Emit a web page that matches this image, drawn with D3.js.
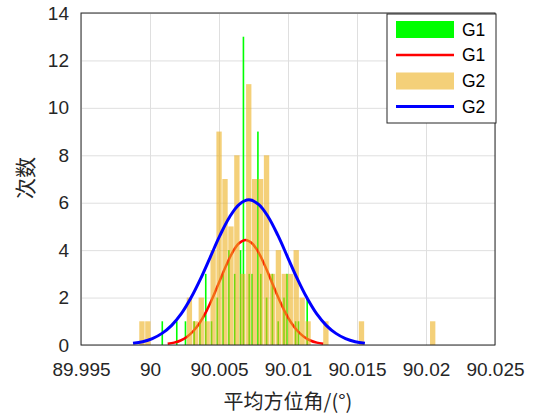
<!DOCTYPE html>
<html>
<head>
<meta charset="utf-8">
<script src="https://cdn.jsdelivr.net/npm/d3@7"></script>
<style>
  body { margin: 0; background: #fff; }
  svg { display: block; }
</style>
</head>
<body>
<svg id="chart"></svg>
<script>
// ---- data ----
const xTicks = [89.995, 90, 90.005, 90.01, 90.015, 90.02, 90.025]
const xTickLabels = ["89.995", "90", "90.005", "90.01", "90.015", "90.02", "90.025"]
const yTicks = [0, 2, 4, 6, 8, 10, 12, 14]

// G2 histogram (tan): first bin left edge, bin width, counts
const g2Start = 89.9992
const g2Width = 0.00043
const g2Counts = [1,1,0,0,0,0,0,0, 2,1,2,1,4,9,7,5, 8,3,11,7,7,8,3,4,
                  3,3,4,2,1,0,0,1, 0,0,0,0,0,1,0,0, 0,0,0,0,0,0,0,0, 0,1]

// G1 histogram (green): first bin centre, bin width, counts
const g1Start = 90.00089
const g1Width = 0.00021
const g1Counts = [1,0,0,0,0,1,0,0,1,0,0,1,0,1,0,3,0,1,0,2,0,3,0,4,0,3,0,4,13,0,
                  3,3,0,9,3,0,2,0,3,0,1,0,2,3,0,0,1,1,0,0,2]

// fitted curves (x, y)
const blueX = [89.99877,89.99947,90.00017,90.00087,90.00157,90.00227,90.00297,90.00367,90.00437,
               90.00507,90.00577,90.00647,90.00717,90.00787,90.00857,90.00927,90.00997,90.01067,
               90.01137,90.01207,90.01277,90.01347,90.01417,90.01487,90.01557]
const blueY = [0.07,0.14,0.27,0.49,0.83,1.32,1.99,2.80,3.71,4.62,5.40,5.93,6.12,
               5.93,5.40,4.62,3.71,2.80,1.99,1.32,0.83,0.49,0.27,0.14,0.07]
const redX = [90.00128,90.00175,90.00222,90.00269,90.00316,90.00363,90.00410,90.00457,90.00504,
              90.00551,90.00598,90.00645,90.00692,90.00739,90.00786,90.00833,90.00880,90.00927,
              90.00974,90.01021,90.01068,90.01115,90.01162,90.01209,90.01256]
const redY = [0.05,0.10,0.19,0.35,0.60,0.96,1.44,2.03,2.69,3.34,3.91,4.29,4.43,
              4.29,3.91,3.34,2.69,2.03,1.44,0.96,0.60,0.35,0.19,0.10,0.05]

const legendNames = ["G1", "G1", "G2", "G2"]

// ---- layout ----
const width = 537, height = 419
const mLeft = 81, mRight = 495, mTop = 13, mBottom = 345
const axisColor = "#262626"
const tanFill = "rgb(237,177,32)"

const svg = d3.select("#chart").attr("width", width).attr("height", height)
  .style("font-family", "Arial, 'Liberation Sans', Helvetica, sans-serif")

const x = d3.scaleLinear().domain([89.995, 90.025]).range([mLeft, mRight])
const y = d3.scaleLinear().domain([0, 14]).range([mBottom, mTop])

// grid
svg.append("g")
  .attr("transform", "translate(0," + mBottom + ")")
  .call(d3.axisBottom(x).tickValues(xTicks).tickSize(-(mBottom - mTop)).tickFormat(""))
  .call(g => g.select(".domain").remove())
  .call(g => g.selectAll("line").attr("stroke", "#dfdfdf").attr("stroke-width", 1))
svg.append("g")
  .attr("transform", "translate(" + mLeft + ",0)")
  .call(d3.axisLeft(y).tickValues(yTicks).tickSize(-(mRight - mLeft)).tickFormat(""))
  .call(g => g.select(".domain").remove())
  .call(g => g.selectAll("line").attr("stroke", "#dfdfdf").attr("stroke-width", 1))

// G1 bars (green, narrow)
const g1 = g1Counts.map((c, i) => ({ x: g1Start + i * g1Width, c: c })).filter(d => d.c > 0)
svg.append("g").selectAll("rect").data(g1).enter().append("rect")
  .attr("x", d => x(d.x) - 0.8)
  .attr("width", 1.6)
  .attr("y", d => y(d.c))
  .attr("height", d => y(0) - y(d.c))
  .attr("fill", "#00ff00")

// G1 fit (red) - sits under tan bars
const line = d3.line().x(d => x(d[0])).y(d => y(d[1])).curve(d3.curveCatmullRom)
svg.append("path")
  .datum(redX.map((v, i) => [v, redY[i]]))
  .attr("d", line)
  .attr("fill", "none")
  .attr("stroke", "#ff0000")
  .attr("stroke-width", 2.5)

// G2 bars (tan, semi transparent)
const g2 = g2Counts.map((c, i) => ({ x0: g2Start + i * g2Width, x1: g2Start + (i + 1) * g2Width, c: c }))
  .filter(d => d.c > 0)
svg.append("g").selectAll("rect").data(g2).enter().append("rect")
  .attr("x", d => x(d.x0) + 0.3)
  .attr("width", d => x(d.x1) - x(d.x0) - 0.6)
  .attr("y", d => y(d.c))
  .attr("height", d => y(0) - y(d.c))
  .attr("fill", tanFill)
  .attr("fill-opacity", 0.6)

// G2 fit (blue)
svg.append("path")
  .datum(blueX.map((v, i) => [v, blueY[i]]))
  .attr("d", line)
  .attr("fill", "none")
  .attr("stroke", "#0000ff")
  .attr("stroke-width", 3)

// axes box
svg.append("rect")
  .attr("x", mLeft).attr("y", mTop)
  .attr("width", mRight - mLeft).attr("height", mBottom - mTop)
  .attr("fill", "none").attr("stroke", axisColor).attr("stroke-width", 1)

// tick labels
const xAxis = svg.append("g")
  .attr("transform", "translate(0," + mBottom + ")")
  .call(d3.axisBottom(x).tickValues(xTicks).tickSize(0).tickFormat((d, i) => xTickLabels[i]))
xAxis.select(".domain").remove()
xAxis.selectAll("text").attr("y", 31).attr("dy", 0)
  .attr("font-size", 19).attr("fill", axisColor)
  .style("font-family", "Arial, 'Liberation Sans', sans-serif")

const yAxis = svg.append("g")
  .attr("transform", "translate(" + mLeft + ",0)")
  .call(d3.axisLeft(y).tickValues(yTicks).tickSize(0).tickPadding(12))
yAxis.select(".domain").remove()
yAxis.selectAll("text").attr("font-size", 19).attr("fill", axisColor)
  .style("font-family", "Arial, 'Liberation Sans', sans-serif")

// axis titles
svg.append("text")
  .attr("x", (mLeft + mRight) / 2).attr("y", 409)
  .attr("text-anchor", "middle")
  .attr("font-size", 20).attr("fill", axisColor)
  .style("font-family", "'Noto Sans CJK SC', sans-serif")
  .text("平均方位角/(°)")
svg.append("text")
  .attr("transform", "translate(33,178) rotate(-90)")
  .attr("text-anchor", "middle")
  .attr("font-size", 21).attr("fill", axisColor)
  .style("font-family", "'Noto Sans CJK SC', sans-serif")
  .text("次数")

// legend
const lg = svg.append("g")
lg.append("rect")
  .attr("x", 387).attr("y", 14).attr("width", 109).attr("height", 109)
  .attr("fill", "#fff").attr("stroke", axisColor).attr("stroke-width", 1)
const rowY = [29.5, 55, 81, 106.5]
const items = lg.selectAll("g.item").data(legendNames).enter().append("g")
  .attr("transform", (d, i) => "translate(0," + rowY[i] + ")")
items.each(function (d, i) {
  const g = d3.select(this)
  if (i === 0 || i === 2) {
    g.append("rect").attr("x", 396).attr("y", -8.5).attr("width", 58).attr("height", 17)
      .attr("fill", i === 0 ? "#00ff00" : tanFill)
      .attr("fill-opacity", i === 0 ? 1 : 0.6)
  } else {
    g.append("line").attr("x1", 396).attr("x2", 454).attr("y1", 0).attr("y2", 0)
      .attr("stroke", i === 1 ? "#ff0000" : "#0000ff").attr("stroke-width", i === 1 ? 2.5 : 3)
  }
  g.append("text").attr("x", 462).attr("y", 0).attr("dy", "0.35em")
    .attr("font-size", 17.5).attr("fill", "#000")
    .text(d)
})
</script>
</body>
</html>
